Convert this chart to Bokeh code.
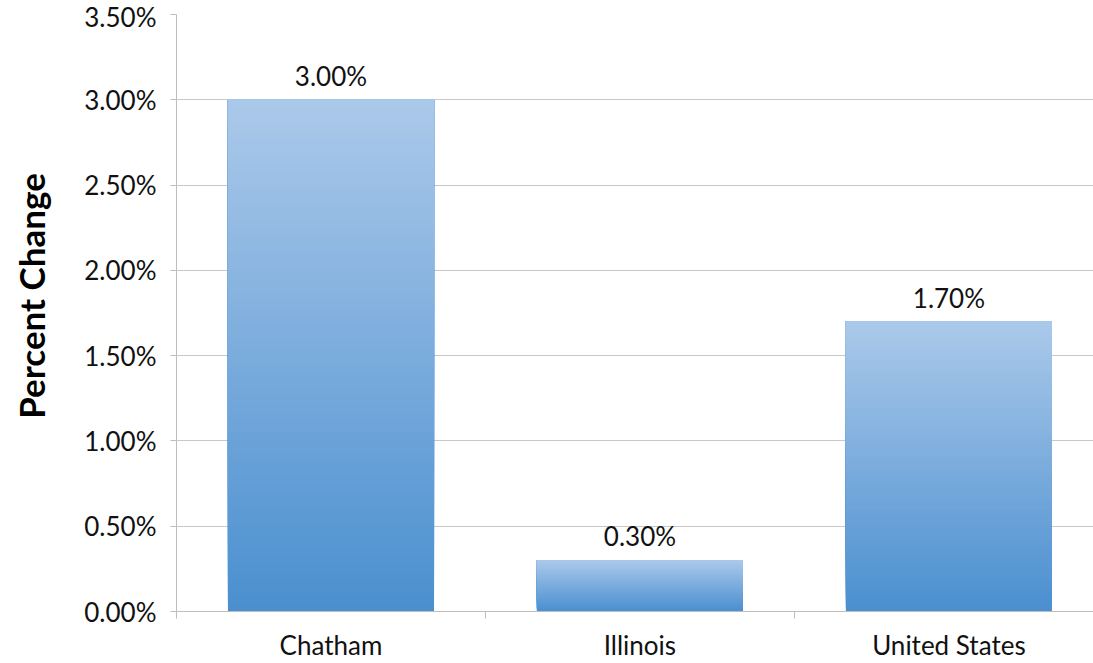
import math
from bokeh.plotting import figure
from bokeh.layouts import row
from bokeh.models import Range1d, FixedTicker, CustomJSTickFormatter, ColumnDataSource
from bokeh.core.properties import value
from bokeh.embed import file_html
from bokeh.resources import INLINE

categories = ["Chatham", "Illinois", "United States"]
values = [3.00, 0.30, 1.70]
value_labels = ["3.00%", "0.30%", "1.70%"]
y_ticks = [0.0, 0.5, 1.0, 1.5, 2.0, 2.5, 3.0, 3.5]
y_title = "Percent Change"

FONT = "Lato"
top_rgb = (171, 201, 234)
bot_rgb = (74, 143, 207)

TITLE_W = 60
p = figure(width=1093 - TITLE_W, height=663, output_backend="svg", toolbar_location=None,
           x_range=Range1d(0, 2.968), y_range=Range1d(0, 3.5),
           min_border_left=176 - TITLE_W, min_border_right=0, min_border_top=14, min_border_bottom=52)
p.outline_line_color = None
p.background_fill_color = "white"
p.border_fill_color = "white"

# gradient bars: overlapping slices, each from its level up to the bar top
n = 80
l, r, b, t, c = [], [], [], [], []
for i, v in enumerate(values):
    xc = i + 0.5
    for k in range(n):
        f = (k + 0.5) / n
        col = tuple(int(round(bot_rgb[j] + (top_rgb[j] - bot_rgb[j]) * f)) for j in range(3))
        l.append(xc - 0.3335)
        r.append(xc + 0.3335)
        b.append(v * k / n)
        t.append(v)
        c.append("#%02x%02x%02x" % col)
src = ColumnDataSource(dict(left=l, right=r, bottom=b, top=t, color=c))
p.quad(left="left", right="right", bottom="bottom", top="top", fill_color="color",
       line_color=None, source=src)

lab = ColumnDataSource(dict(x=[i + 0.5 for i in range(len(values))], y=values, text=value_labels))
p.text(x="x", y="y", text="text", source=lab, text_align="center", text_baseline="bottom",
       y_offset=-8, text_font_size="26px", text_color="#111111", text_font=value(FONT))

# y axis
p.yaxis.ticker = FixedTicker(ticks=y_ticks)
p.yaxis.formatter = CustomJSTickFormatter(code="return tick.toFixed(2) + '%';")
p.yaxis.axis_line_color = "#bdbdbd"
p.yaxis.major_tick_line_color = "#bdbdbd"
p.yaxis.major_tick_out = 6
p.yaxis.major_tick_in = 0
p.yaxis.minor_tick_line_color = None
p.yaxis.major_label_text_font = FONT
p.yaxis.major_label_text_font_size = "26px"
p.yaxis.major_label_text_color = "#111111"
p.yaxis.major_label_standoff = 14

# x axis
p.xaxis.ticker = FixedTicker(ticks=[0.5, 1.5, 2.5], minor_ticks=[0, 1, 2])
p.xaxis.major_label_overrides = {0.5: categories[0], 1.5: categories[1], 2.5: categories[2]}
p.xaxis.major_tick_line_color = None
p.xaxis.major_tick_out = 0
p.xaxis.major_tick_in = 0
p.xaxis.minor_tick_line_color = "#bdbdbd"
p.xaxis.minor_tick_out = 7
p.xaxis.minor_tick_in = 0
p.xaxis.axis_line_color = "#bdbdbd"
p.xaxis.major_label_text_font = FONT
p.xaxis.major_label_text_font_size = "26px"
p.xaxis.major_label_text_color = "#111111"
p.xaxis.major_label_standoff = 10

p.xgrid.grid_line_color = None
p.ygrid.ticker = FixedTicker(ticks=y_ticks)
p.ygrid.grid_line_color = "#c8c8c8"
p.ygrid.grid_line_width = 1

# narrow side figure holding the rotated y title
tf = figure(width=TITLE_W, height=663, output_backend="svg", toolbar_location=None,
            x_range=Range1d(0, 1), y_range=Range1d(0, 3.5),
            min_border_left=0, min_border_right=0, min_border_top=14, min_border_bottom=52)
tf.axis.visible = False
tf.grid.visible = False
tf.outline_line_color = None
tf.border_fill_color = "white"
tf.text(x=[0.5], y=[1.85], text=[y_title], angle=math.pi / 2, text_align="center",
        text_baseline="middle", text_font=value(FONT), text_font_size="35px",
        text_font_style="bold", text_color="#000000")

layout = row(tf, p, spacing=0)
open("out.html", "w").write(file_html(layout, INLINE))
